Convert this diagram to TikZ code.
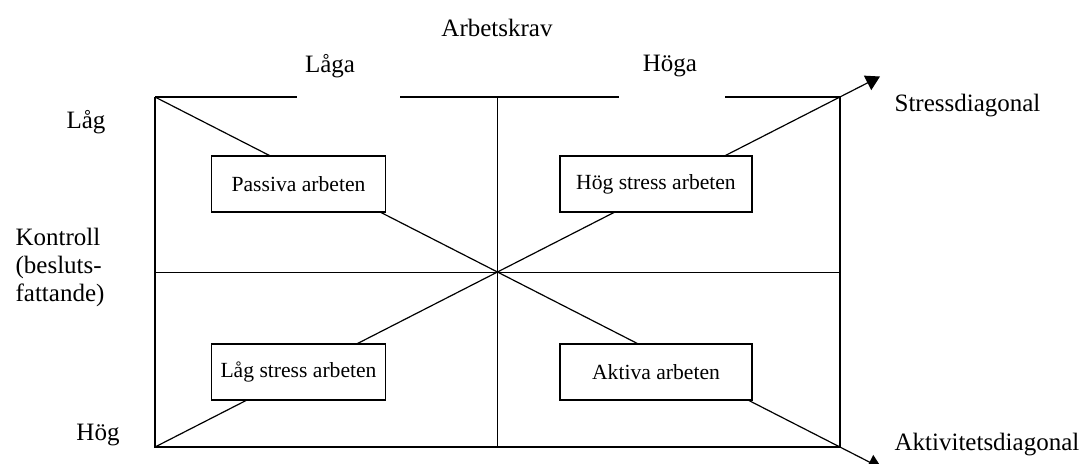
\documentclass[tikz,border=0pt]{standalone}
\usepackage{fontspec}
\setmainfont{Liberation Serif}
\usetikzlibrary{arrows.meta, positioning}

\begin{document}
\begin{tikzpicture}[%
    x=0.5pt, y=-0.5pt,
    >={Triangle[width=8pt,length=7pt]},
    line width=0.6pt,
    every node/.style={%
      font=\fontsize{12.5}{14}\selectfont,
      text=black,
      inner sep=1pt
    },
    cell/.style={draw=black,fill=white,font=\fontsize{10.8}{12}\selectfont,
      minimum width=87pt,minimum height=28pt,inner sep=0pt},
    wide/.style={cell,minimum width=96pt}
  ]
  \useasboundingbox (0,0) rectangle (1090,463);

  % Corners of the grid
  \coordinate (tl) at (155,97);
  \coordinate (tr) at (840,97);
  \coordinate (bl) at (155,447);
  \coordinate (br) at (840,447);
  \coordinate (tm) at (497.5,97);
  \coordinate (bm) at (497.5,447);
  \coordinate (ml) at (155,272);
  \coordinate (mr) at (840,272);
  \coordinate (stip) at (880,76.5);
  \coordinate (atip) at (882,468.5);

  % Diagonals
  \draw[->] (tl) -- (atip);
  \draw[->] (bl) -- (stip);

  % Frame with gaps on top
  \draw (tl) -- (297,97);
  \draw (400,97) -- (619,97);
  \draw (725,97) -- (tr);
  \draw (tl) -- (bl) -- (br) -- (tr);
  \draw[line width=0.4pt] (tm) -- (bm);
  \draw[line width=0.4pt] (ml) -- (mr);

  % Quadrants
  \node[cell] (passiv) at (298.5,184) {Passiva arbeten};
  \node[wide] (hogst) at (656,184) {Hög stress arbeten};
  \node[cell] (lagst) at (298.5,372) {Låg stress arbeten};
  \node[wide] (aktiv) at (656,372) {Aktiva arbeten};

  % Axis labels
  \node (krav) at (497,28) {Arbetskrav};
  \node (laga) at (330,66) {Låga};
  \node (hoga) at (670,66) {Höga};
  \node (lag) at (86,122) {Låg};
  \node (hog) at (98,435) {Hög};
  \node[align=left, anchor=west] (kontroll) at (13,267) {Kontroll\\(besluts-\\fattande)};
  \node[anchor=west] (stress) at (892,106) {Stressdiagonal};
  \node[anchor=west] (aktivitet) at (892,445) {Aktivitetsdiagonal};

\end{tikzpicture}
\end{document}
